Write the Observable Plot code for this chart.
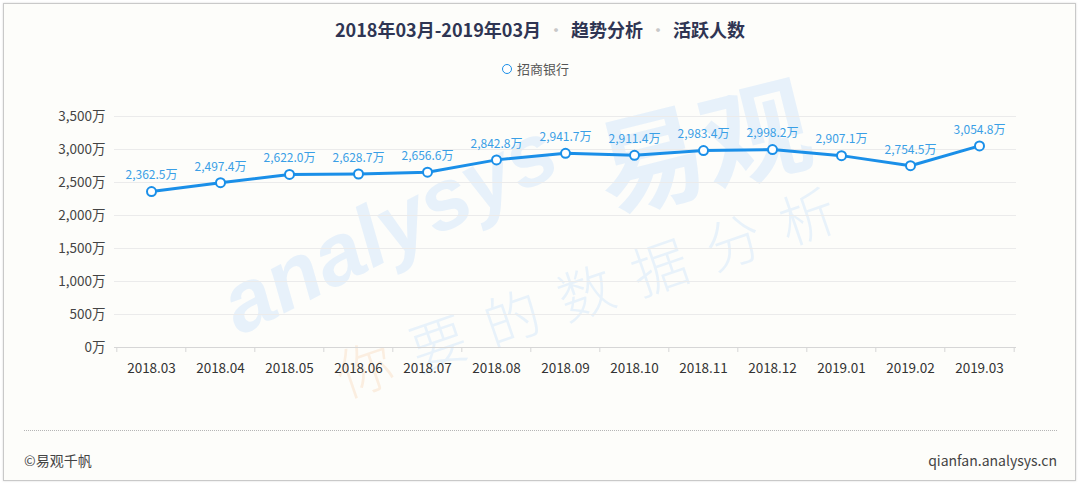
<!DOCTYPE html>
<html>
<head>
<meta charset="utf-8">
<script src="https://cdn.jsdelivr.net/npm/d3@7"></script>
<script src="https://cdn.jsdelivr.net/npm/@observablehq/plot@0.6"></script>
<style>
  html, body { margin: 0; padding: 0; background: #ffffff; }
  body { width: 1080px; height: 486px; position: relative; overflow: hidden;
         font-family: "Noto Sans CJK SC", "Noto Sans", sans-serif; }
  #frame { position: absolute; left: 3px; top: 3px; width: 1071px; height: 476px;
           border: 1.5px solid #c9c9c9; background: #fdfdfa; box-shadow: 0 0 2px rgba(0,0,0,0.15); }
  #wm { position: absolute; left: 0; top: 0; }
  #chart { position: absolute; left: 0; top: 0; }
  #title { position: absolute; left: 0; width: 1080px; top: 16px; text-align: center;
           font-size: 18px; font-weight: bold; color: #2f3553; letter-spacing: 0px; }
  #title .sep { color: #c8c8c8; font-weight: normal; margin: 0 6px; }
  #legend { position: absolute; left: 502px; top: 59px; font-size: 13px; color: #555; display: flex; align-items: center; }
  #legend .mk { width: 8px; height: 8px; border: 1.8px solid #1a8fe8; border-radius: 50%; margin-right: 5px; background: #fff; }
  #rule { position: absolute; left: 24px; width: 1033px; top: 430px; border-top: 1px dotted #b5b5b5; }
  #foot-l { position: absolute; left: 24px; top: 450px; font-size: 14px; color: #444; }
  #foot-r { position: absolute; right: 23px; top: 450px; font-size: 14px; color: #444; }
</style>
</head>
<body>
<div id="frame"></div>
<svg id="wm" width="1080" height="486">
  <g transform="translate(240,336) rotate(-27)">
    <text font-family="Liberation Sans, Arial, sans-serif" font-size="86" font-weight="bold" font-style="italic" fill="#e7f1fa">analysys</text>
  </g>
  <g transform="translate(608,212) rotate(-14)">
    <text font-family="Noto Sans CJK SC" font-size="108" font-weight="bold" fill="#e7f1fa">易观</text>
  </g>
  <g transform="translate(345,398) rotate(-19)">
    <text font-family="Noto Sans CJK SC" font-size="56" font-weight="300" letter-spacing="22" fill="#e8f2fa"><tspan fill="#fbeee0">你</tspan>要的数据分析</text>
  </g>
</svg>
<div id="chart"></div>
<div id="title">2018年03月-2019年03月<span class="sep">·</span>趋势分析<span class="sep">·</span>活跃人数</div>
<div id="legend"><div class="mk"></div><span>招商银行</span></div>
<div id="rule"></div>
<div id="foot-l">©易观千帆</div>
<div id="foot-r">qianfan.analysys.cn</div>
<script>
const months = ["2018.03","2018.04","2018.05","2018.06","2018.07","2018.08","2018.09","2018.10","2018.11","2018.12","2019.01","2019.02","2019.03"];
const activeUsers = [2362.5, 2497.4, 2622.0, 2628.7, 2656.6, 2842.8, 2941.7, 2911.4, 2983.4, 2998.2, 2907.1, 2754.5, 3054.8];
const yTicks = [0, 500, 1000, 1500, 2000, 2500, 3000, 3500];
const seriesName = "招商银行";

const data = months.map((m, i) => ({month: m, value: activeUsers[i], series: seriesName}));

const W = 1080, H = 400, ML = 114, MR = 64, MT = 116, MB = 53;
const step = (W - ML - MR) / months.length;
const blue = "#1a8fe8";
const fmtAxis = d => d3.format(",")(d) + "万";
const fmtLabel = d => d3.format(",.1f")(d) + "万";

const chart = Plot.plot({
  width: W, height: H,
  marginLeft: ML, marginRight: MR, marginTop: MT, marginBottom: MB,
  style: {background: "transparent", fontFamily: "'Noto Sans CJK SC', sans-serif", overflow: "visible"},
  x: {type: "point", domain: months, padding: 0.5, axis: null, label: null},
  y: {domain: [0, 3500], axis: null, label: null},
  marks: [
    Plot.gridY(yTicks, {stroke: "#ebebeb", strokeOpacity: 1}),
    Plot.axisY(yTicks, {tickSize: 0, tickPadding: 9, tickFormat: fmtAxis, fontSize: 13.5, fill: "#444", label: null}),
    Plot.ruleY([0], {stroke: "#d6d6d6"}),
    Plot.ruleX(months, {x: d => d, dx: -step / 2, y1: 0, y2: 0, insetBottom: -5, stroke: "#d6d6d6"}),
    Plot.ruleX(months.slice(-1), {x: d => d, dx: step / 2, y1: 0, y2: 0, insetBottom: -5, stroke: "#d6d6d6"}),
    Plot.axisX(months, {tickSize: 0, tickPadding: 16, fontSize: 13.5, fill: "#333", label: null}),
    Plot.line(data, {x: "month", y: "value", stroke: blue, strokeWidth: 3}),
    Plot.dot(data, {x: "month", y: "value", r: 4.5, fill: "white", stroke: blue, strokeWidth: 2}),
    Plot.text(data, {x: "month", y: "value", text: d => fmtLabel(d.value), dy: -16, fill: "#3a9fe6", fontSize: 12})
  ]
});
document.getElementById("chart").appendChild(chart);
</script>
</body>
</html>
